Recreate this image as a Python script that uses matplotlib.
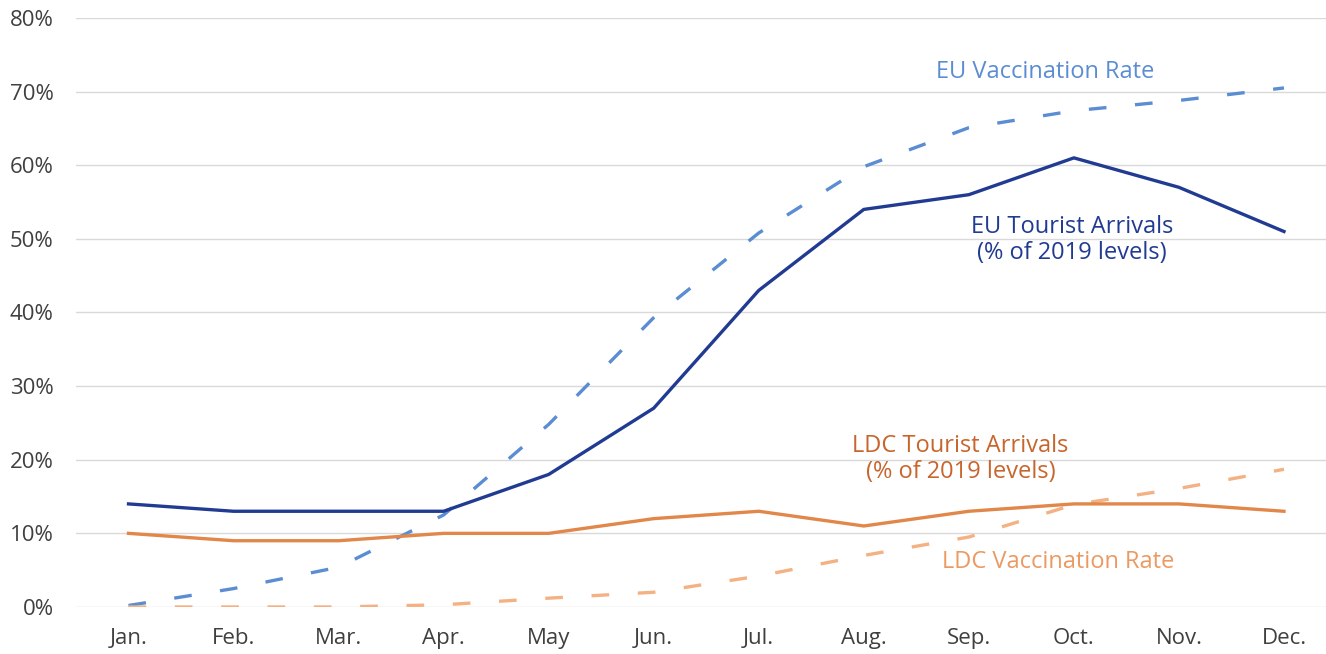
import numpy as np
import matplotlib
matplotlib.use('Agg')
import matplotlib.pyplot as plt

months = ['Jan.', 'Feb.', 'Mar.', 'Apr.', 'May', 'Jun.', 'Jul.', 'Aug.', 'Sep.', 'Oct.', 'Nov.', 'Dec.']
eu_arrivals = [14, 13, 13, 13, 18, 27, 43, 54, 56, 61, 57, 51]
ldc_arrivals = [10, 9, 9, 10, 10, 12, 13, 11, 13, 14, 14, 13]
eu_vacc = [0.2, 2.5, 5.4, 12.5, 24.8, 39.3, 50.8, 59.8, 65.1, 67.4, 68.8, 70.5]
ldc_vacc = [0, 0, 0, 0.3, 1.2, 2.0, 4.2, 7.0, 9.5, 13.9, 16.1, 18.7]

plt.rcParams['font.family'] = ['Open Sans', 'DejaVu Sans']

fig = plt.figure(figsize=(13.26, 6.54), dpi=100)
ax = fig.add_axes([0.0573, 0.0719, 0.9427, 0.9006])
x = np.arange(len(months))

ax.plot(x, eu_vacc, color='#5b8dd3', lw=2.4, dashes=(5.3, 8.6), zorder=3)
ax.plot(x, ldc_vacc, color='#f4b183', lw=2.4, dashes=(5.3, 8.6), zorder=3)
ax.plot(x, eu_arrivals, color='#213b92', lw=2.4, zorder=4)
ax.plot(x, ldc_arrivals, color='#e2874a', lw=2.4, zorder=4)

ax.text(8.73, 72.7, 'EU Vaccination Rate', color='#5b8dd3', fontsize=17, ha='center', va='center')
ax.text(8.98, 49.8, 'EU Tourist Arrivals\n(% of 2019 levels)', color='#213b92', fontsize=17,
        ha='center', va='center', linespacing=1.1)
ax.text(7.92, 20.1, 'LDC Tourist Arrivals\n(% of 2019 levels)', color='#c8652c', fontsize=17,
        ha='center', va='center', linespacing=1.1)
ax.text(8.85, 6.1, 'LDC Vaccination Rate', color='#eb9a62', fontsize=17, ha='center', va='center')

ax.set_xlim(-0.5, 11.4)
ax.set_ylim(0, 80)
ax.set_xticks(x)
ax.set_xticklabels(months)
ax.set_yticks(np.arange(0, 81, 10))
ax.set_yticklabels([f'{v}%' for v in range(0, 81, 10)])
ax.tick_params(length=0, labelsize=16, colors='#404040')
ax.tick_params(axis='y', pad=16)
ax.tick_params(axis='x', pad=15)
ax.grid(axis='y', color='#d9d9d9', lw=1)
ax.set_axisbelow(True)
for s in ax.spines.values():
    s.set_visible(False)

fig.savefig('out.png', dpi=100)
